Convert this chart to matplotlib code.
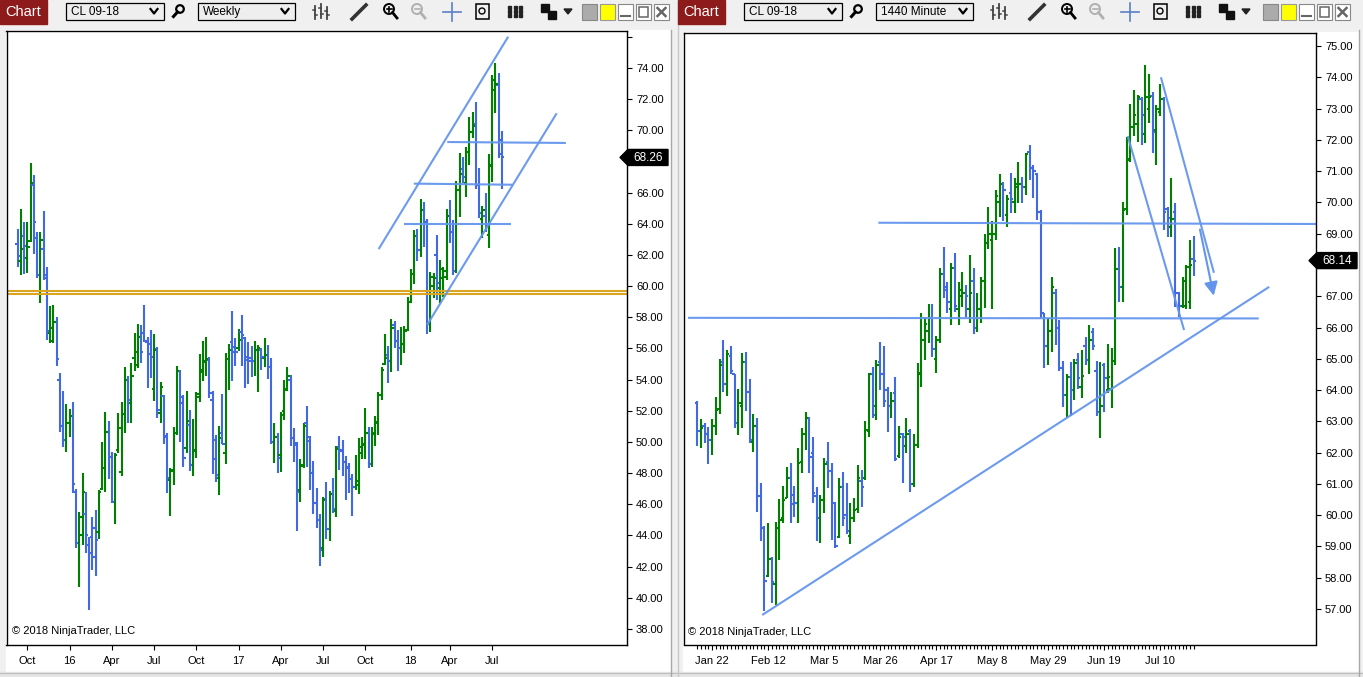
import numpy as np
import pandas as pd
import matplotlib
matplotlib.use("Agg")
import matplotlib.pyplot as plt
from matplotlib.patches import Rectangle, Polygon, Circle

plt.rcParams['font.family'] = ['Liberation Sans', 'DejaVu Sans']

# weekly CL 09-18, one bar per week starting 2015-09-07
w_start = '2015-09-07'
w_open = [62.7, 61.6, 63.2, 61.8, 62.9, 66.5, 63.1, 60.7, 62.4, 60.5,
          57.0, 56.5, 57.7, 54.0, 51.0, 50.1, 51.2, 51.7, 46.8, 43.5,
          44.0, 45.4, 43.4, 43.9, 44.5, 44.25, 47.0, 48.3, 50.66, 49.06,
          46.17, 49.5, 48.1, 51.8, 54.0, 52.5, 55.37, 54.94, 56.76, 57.0,
          56.44, 56.3, 53.4, 55.97, 51.84, 52.95, 50.38, 47.56, 48.2, 50.56,
          54.55, 52.5, 49.63, 51.1, 48.5, 49.4, 52.9, 54.6, 55.15, 55.26,
          52.7, 50.12, 47.66, 50.6, 49.27, 55.3, 56.43, 56.1, 56.0, 57.08,
          56.65, 55.47, 55.36, 55.19, 55.9, 55.9, 55.41, 55.58, 54.83, 50.0,
          50.34, 49.16, 52.0, 53.33, 53.97, 50.23, 49.8, 46.91, 48.52, 51.19,
          50.34, 47.98, 46.1, 45.0, 43.21, 46.31, 44.39, 46.66, 45.59, 49.69,
          49.48, 48.73, 48.3, 47.6, 47.13, 47.23, 49.3, 49.8, 50.6, 48.6,
          50.5, 51.2, 53.0, 55.0, 55.6, 55.2, 57.5, 56.5, 56.0, 56.3,
          57.2, 59.0, 60.8, 63.2, 62.3, 64.9, 64.1, 57.6, 60.0, 62.0,
          59.9, 60.5, 60.6, 64.5, 63.5, 61.0, 66.2, 67.5, 66.6, 68.6,
          69.9, 70.4, 66.5, 64.3, 64.5, 63.3, 67.8, 72.6, 72.9, 69.4]
w_high = [63.67, 64.93, 64.12, 64.12, 67.88, 67.14, 63.48, 63.48, 64.83, 61.23,
          58.73, 58.8, 58.0, 54.4, 53.27, 52.44, 52.1, 52.54, 46.96, 45.5,
          47.99, 46.8, 43.92, 45.2, 45.63, 46.9, 49.98, 51.9, 51.35, 49.33,
          49.27, 51.84, 52.54, 54.83, 54.23, 55.1, 56.97, 57.57, 57.5, 58.79,
          56.76, 57.2, 56.93, 56.1, 53.83, 53.0, 50.56, 48.31, 50.98, 54.88,
          54.6, 53.0, 53.27, 52.05, 51.47, 53.18, 55.64, 56.48, 56.71, 55.43,
          53.27, 50.44, 51.0, 53.05, 55.68, 56.28, 58.4, 56.69, 57.25, 58.14,
          56.71, 56.41, 56.16, 56.48, 56.22, 56.01, 56.65, 56.22, 55.36, 51.19,
          50.55, 51.9, 54.0, 54.79, 54.3, 50.87, 49.97, 48.88, 51.19, 52.3,
          50.38, 48.77, 47.02, 45.37, 46.48, 47.43, 46.85, 47.66, 49.74, 50.38,
          50.12, 49.1, 48.63, 47.94, 49.16, 50.23, 50.34, 52.16, 50.98, 50.98,
          51.66, 53.22, 54.79, 56.9, 56.16, 57.87, 57.78, 57.18, 57.4, 57.44,
          59.32, 61.08, 63.6, 63.7, 65.57, 65.38, 64.3, 60.93, 60.86, 63.28,
          61.67, 61.24, 64.93, 65.53, 64.24, 66.75, 68.52, 68.31, 68.9, 70.87,
          71.2, 71.84, 67.56, 65.14, 66.0, 68.48, 73.55, 74.3, 73.7, 69.96]
w_low = [61.25, 60.72, 60.78, 60.87, 62.86, 62.07, 60.55, 58.94, 60.40, 56.54,
         56.37, 56.37, 54.9, 50.66, 49.7, 49.38, 50.3, 46.7, 43.17, 40.67,
         43.39, 42.85, 39.22, 41.8, 41.4, 43.8, 46.92, 46.8, 47.65, 46.06,
         44.74, 49.27, 47.84, 50.6, 51.24, 51.24, 54.58, 54.73, 55.09, 56.44,
         53.49, 54.13, 52.65, 51.56, 51.24, 49.85, 46.7, 45.27, 47.24, 50.45,
         50.0, 48.4, 49.27, 48.15, 47.83, 48.99, 52.58, 53.93, 54.25, 52.84,
         47.94, 47.45, 46.6, 49.87, 48.58, 53.33, 53.9, 54.87, 55.83, 54.87,
         53.48, 53.72, 54.19, 54.23, 53.22, 54.62, 54.83, 54.06, 49.84, 48.63,
         47.98, 48.09, 51.41, 53.29, 49.74, 48.73, 44.3, 46.12, 48.3, 48.41,
         46.91, 45.37, 44.5, 42.03, 42.63, 43.77, 43.66, 45.46, 45.2, 48.2,
         47.83, 46.27, 46.74, 45.27, 46.91, 46.66, 48.88, 48.88, 48.3, 48.41,
         49.76, 50.44, 52.69, 54.93, 53.76, 54.5, 56.0, 54.57, 54.93, 55.68,
         57.14, 58.9, 60.13, 61.63, 61.89, 62.53, 56.93, 57.08, 59.21, 59.11,
         58.9, 59.32, 60.39, 62.74, 60.71, 60.86, 64.46, 66.6, 65.74, 67.77,
         69.48, 66.21, 64.35, 63.07, 63.5, 62.42, 66.7, 71.13, 68.2, 66.21]
w_close = [61.94, 62.4, 62.6, 62.5, 66.6, 64.1, 60.7, 62.96, 60.7, 57.1,
           57.3, 57.7, 55.35, 51.0, 50.1, 51.2, 51.7, 47.3, 43.5, 45.2,
           46.8, 44.0, 42.85, 42.6, 43.7, 46.8, 48.3, 50.66, 49.06, 46.17,
           49.16, 50.9, 51.8, 54.0, 52.7, 54.25, 55.8, 56.76, 55.8, 56.5,
           55.65, 55.47, 55.9, 52.05, 53.55, 50.34, 47.67, 48.16, 50.6, 54.58,
           52.9, 49.0, 51.34, 48.5, 49.5, 53.07, 54.5, 55.2, 55.3, 53.16,
           48.9, 47.88, 50.23, 49.9, 55.3, 55.9, 55.79, 55.79, 56.54, 56.86,
           55.26, 55.21, 55.19, 55.9, 56.0, 55.47, 55.58, 54.83, 50.0, 50.34,
           48.99, 51.73, 53.4, 54.23, 50.23, 49.91, 46.8, 48.47, 51.02, 50.08,
           48.03, 46.1, 45.0, 43.1, 46.27, 44.39, 46.66, 45.67, 49.52, 49.44,
           48.73, 48.41, 47.6, 47.13, 47.5, 49.69, 49.9, 50.6, 48.6, 50.6,
           51.3, 53.0, 54.6, 55.4, 55.2, 57.3, 56.5, 56.0, 56.3, 57.1,
           59.0, 60.8, 63.2, 62.3, 64.9, 64.1, 57.6, 60.6, 60.5, 60.2,
           61.1, 61.0, 64.5, 63.5, 61.0, 66.2, 67.2, 67.0, 68.6, 69.9,
           70.3, 66.5, 64.7, 64.9, 64.0, 67.7, 73.2, 73.0, 68.5, 68.26]

# daily (1440 minute) CL 09-18 from 2018-01-16, Good Friday closed
d_start = '2018-01-16'
d_closed = '2018-03-30'
d_open = [63.6, 62.7, 62.85, 62.6, 62.4, 62.85, 63.4, 64.9, 64.2, 65.1,
          64.5, 62.95, 63.5, 64.9, 63.95, 62.35, 62.85, 60.6, 59.6, 58.05,
          58.6, 57.8, 59.6, 59.9, 60.55, 61.2, 60.65, 60.4, 61.7, 62.6,
          63.1, 62.0, 60.6, 59.9, 60.5, 61.7, 61.4, 60.4, 59.3, 60.9,
          60.0, 59.35, 59.9, 60.2, 61.1, 61.2, 62.7, 64.5, 63.5, 64.9,
          64.5, 64.0, 63.5, 63.9, 61.9, 62.6, 62.2, 62.7, 61.0, 62.24,
          64.55, 65.6, 65.9, 66.3, 65.0, 65.6, 67.7, 67.3, 66.6, 67.9,
          66.6, 67.0, 67.1, 66.6, 67.5, 66.0, 66.6, 67.5, 68.7, 68.8,
          69.0, 70.0, 70.6, 69.6, 70.3, 70.0, 70.5, 70.6, 70.5, 71.6,
          71.1, 70.9, 69.7, 66.45, 65.4, 65.9, 67.1, 66.0, 64.7, 63.84,
          64.43, 64.0, 64.95, 64.1, 65.4, 64.95, 65.87, 64.6, 63.31, 64.8,
          64.0, 64.05, 64.94, 67.86, 67.3, 69.8, 71.4, 72.4, 72.5, 73.3,
          72.2, 73.0, 73.4, 72.3, 72.9, 73.3, 69.8, 69.2, 69.7, 67.1,
          66.69, 66.7, 66.8, 68.2]
d_high = [63.66, 63.06, 62.94, 62.81, 63.06, 63.79, 64.99, 65.6, 65.28, 65.41,
          64.53, 64.05, 65.17, 65.23, 64.34, 63.23, 63.1, 61.02, 59.66, 59.74,
          58.65, 59.79, 60.51, 60.93, 61.55, 61.68, 60.93, 62.14, 62.78, 63.31,
          63.13, 62.49, 60.91, 60.64, 61.82, 62.35, 61.66, 60.43, 61.18, 61.37,
          61.04, 60.38, 60.54, 61.6, 61.44, 63.01, 64.56, 64.73, 64.96, 65.54,
          65.41, 64.11, 63.95, 64.41, 62.85, 62.62, 63.1, 62.75, 62.6, 64.85,
          66.48, 66.35, 66.75, 66.75, 65.73, 67.89, 68.56, 67.47, 68.05, 68.39,
          67.47, 67.79, 67.36, 68.32, 67.89, 67.09, 67.62, 68.99, 69.84, 69.42,
          70.4, 70.91, 70.66, 70.24, 70.93, 70.77, 71.3, 70.82, 71.59, 71.84,
          71.2, 70.95, 69.76, 66.48, 66.3, 67.62, 67.22, 66.24, 64.94, 64.53,
          64.9, 64.98, 65.17, 65.28, 65.7, 66.08, 65.97, 64.94, 64.9, 64.85,
          65.47, 65.33, 68.53, 68.58, 70.0, 72.1, 73.14, 73.59, 73.43, 73.38,
          74.39, 74.12, 73.54, 73.11, 73.8, 73.38, 69.86, 70.77, 69.97, 67.14,
          67.62, 68.0, 68.8, 68.92]
d_low = [62.21, 62.14, 62.32, 61.64, 61.92, 62.56, 63.23, 63.95, 63.81, 64.53,
         62.78, 62.56, 62.78, 63.34, 62.3, 62.03, 60.11, 59.17, 56.95, 58.01,
         57.18, 57.13, 58.57, 59.76, 60.54, 59.76, 59.93, 59.76, 61.36, 62.08,
         61.36, 60.38, 59.18, 59.12, 60.08, 60.86, 59.21, 58.94, 59.26, 59.65,
         59.4, 59.08, 59.79, 60.08, 60.27, 61.12, 62.51, 63.1, 63.04, 64.0,
         63.47, 62.67, 63.1, 61.74, 61.82, 61.02, 62.0, 60.75, 60.9, 62.14,
         64.1, 64.96, 65.5, 65.07, 64.56, 65.5, 66.93, 66.45, 66.08, 66.51,
         66.08, 66.67, 66.33, 66.13, 65.79, 65.87, 66.15, 66.61, 68.5, 66.58,
         68.8, 69.54, 69.42, 69.22, 69.65, 69.65, 69.99, 69.97, 70.23, 70.72,
         70.13, 69.44, 66.3, 64.7, 64.8, 65.23, 65.44, 64.6, 63.47, 63.15,
         63.17, 63.68, 64.02, 63.74, 64.8, 64.5, 65.28, 63.17, 62.46, 63.31,
         63.9, 63.42, 64.8, 66.8, 66.8, 69.6, 71.3, 72.12, 71.94, 71.83,
         71.89, 72.53, 71.59, 71.2, 72.76, 69.12, 68.9, 68.9, 66.67, 66.35,
         66.61, 66.58, 66.58, 67.65]
d_close = [62.7, 62.8, 62.6, 62.4, 62.85, 63.35, 64.8, 64.2, 65.15, 64.6,
           62.95, 63.6, 64.9, 63.95, 62.4, 62.85, 60.6, 59.6, 57.9, 58.6,
           57.85, 59.6, 59.85, 60.5, 61.2, 60.35, 60.38, 61.66, 62.6, 63.1,
           61.85, 60.7, 59.9, 60.5, 61.65, 61.4, 60.4, 59.0, 60.9, 59.9,
           59.5, 59.9, 60.17, 61.2, 60.9, 62.72, 64.5, 63.2, 64.8, 64.5,
           63.66, 63.5, 63.66, 61.8, 62.5, 62.5, 62.6, 61.0, 62.24, 64.53,
           65.6, 66.1, 66.3, 65.3, 65.6, 67.7, 67.2, 66.8, 67.9, 66.7,
           67.2, 67.1, 67.0, 67.1, 66.0, 66.6, 67.5, 68.7, 69.0, 69.0,
           70.2, 70.6, 70.4, 70.1, 70.1, 70.6, 70.6, 70.5, 71.55, 71.1,
           71.0, 69.7, 66.45, 65.4, 65.9, 67.3, 66.0, 64.7, 63.84, 64.43,
           64.0, 64.85, 64.4, 64.46, 64.95, 65.6, 65.4, 63.31, 63.5, 64.4,
           64.43, 64.94, 67.86, 67.3, 69.75, 71.37, 72.42, 72.8, 73.38, 72.8,
           73.38, 73.38, 72.26, 72.98, 73.3, 69.7, 69.49, 69.46, 67.1, 66.7,
           67.5, 67.95, 68.0, 68.14]

# drawing objects, in (bar index, price)
w_gold_levels = [59.70, 59.50]
w_channel = [((111.1, 62.38), (150.95, 76.01)),
             ((126.0, 57.51), (165.85, 71.09)),
             ((132.2, 69.25), (168.7, 69.19)),
             ((121.9, 66.58), (152.3, 66.51)),
             ((118.8, 64.01), (151.7, 64.01))]
d_lines = [((-2.5, 66.31), (150.4, 66.29)),
           ((48.5, 69.35), (166.0, 69.31)),
           ((17.4, 56.81), (153.2, 67.30)),
           ((115.3, 72.12), (130.4, 65.92)),
           ((124.2, 74.00), (138.4, 67.75))]
d_arrow = ((134.5, 69.22), (138.5, 66.93))

UP = '#008000'
DOWN = '#4169E1'
DRAW = '#6495ED'

W, H = 1363, 677
fig = plt.figure(figsize=(W / 100, H / 100), dpi=100)
fig.patch.set_facecolor('#F0F0F0')


def frac(x0, y0, x1, y1):
    return [x0 / W, 1 - y1 / H, (x1 - x0) / W, (y1 - y0) / H]


bg = fig.add_axes([0, 0, 1, 1], zorder=0)
bg.set_xlim(0, W)
bg.set_ylim(H, 0)
bg.axis('off')
bg.add_patch(Rectangle((6, 30), 664, 642, color='white'))
bg.add_patch(Rectangle((683, 32), 675, 640, color='white'))
bg.add_patch(Rectangle((0, 672), W, 5, color='#E4E4E4'))
bg.plot([0, W], [672.5, 672.5], color='#BDBDBD', lw=0.8)
bg.plot([670.5, 670.5], [30, 677], color='#A8A8A8', lw=1)
bg.plot([677.5, 677.5], [0, 677], color='#C8C8C8', lw=1)
bg.plot([1358.5, 1358.5], [30, 677], color='#A8A8A8', lw=1)


def draw_ohlc(ax, o, h, l, c, half):
    o, h, l, c = map(np.asarray, (o, h, l, c))
    x = np.arange(len(o))
    col = np.where(c >= o, UP, DOWN)
    ax.vlines(x, l, h, colors=col, lw=1.5)
    ax.hlines(o, x - half, x, colors=col, lw=1.5)
    ax.hlines(c, x, x + half, colors=col, lw=1.5)


def style_axes(ax):
    ax.set_facecolor('white')
    ax.yaxis.tick_right()
    ax.tick_params(axis='both', direction='out', length=3.5, width=0.8,
                   labelsize=8, colors='black')
    ax.tick_params(axis='y', pad=3)
    ax.tick_params(axis='x', pad=4.5)
    for s in ax.spines.values():
        s.set_color('black')
        s.set_linewidth(1.0)


def price_labels(ticks, last, top=None):
    # the last-price tag hides the nearest level label
    near = ticks[np.argmin(np.abs(ticks - last))]
    return ['' if (v == near or (top is not None and v >= top)) else f'{v:.2f}'
            for v in ticks]


# ---------- left: weekly ----------
ax1 = fig.add_axes(frac(6.5, 30.5, 627, 644.5), zorder=1)
style_axes(ax1)
draw_ohlc(ax1, w_open, w_high, w_low, w_close, 0.72)
for lvl in w_gold_levels:
    ax1.axhline(lvl, color='#DAA520', lw=1.5)
for (x0, y0), (x1, y1) in w_channel:
    ax1.plot([x0, x1], [y0, y1], color=DRAW, lw=1.5, alpha=0.95, solid_capstyle='butt')
ax1.set_xlim((7 - 18) / 3.248, (627 - 18) / 3.248)
ax1.set_ylim(74 - (644.5 - 68) / 15.583, 74 + (68 - 30.5) / 15.583)
wt = np.arange(38, 77, 2)
ax1.set_yticks(wt)
ax1.set_yticklabels(price_labels(wt, w_close[-1], top=76))

weeks = pd.date_range(w_start, periods=len(w_open), freq='7D')
w_ticks, w_labels = [], []
for i, d in enumerate(weeks):
    e = d + pd.Timedelta(days=6)
    if d.day == 1:
        new = d
    elif e.month != d.month:
        new = e
    else:
        continue
    if new.month in (1, 4, 7, 10):
        w_ticks.append(i)
        w_labels.append(f'{new.year % 100:02d}' if new.month == 1 else new.strftime('%b'))
ax1.set_xticks(w_ticks)
ax1.set_xticklabels(w_labels)

# ---------- right: daily ----------
ax2 = fig.add_axes(frac(683.5, 32.5, 1316, 644.5), zorder=1)
style_axes(ax2)
draw_ohlc(ax2, d_open, d_high, d_low, d_close, 0.62)
for (x0, y0), (x1, y1) in d_lines:
    ax2.plot([x0, x1], [y0, y1], color=DRAW, lw=1.5, alpha=0.95, solid_capstyle='butt')
ax2.annotate('', xy=d_arrow[1], xytext=d_arrow[0],
             arrowprops=dict(arrowstyle='-|>', color=DRAW, lw=1.5, mutation_scale=20))
ax2.set_xlim((683.5 - 697.3) / 3.733, (1316 - 697.3) / 3.733)
ax2.set_ylim(75 - (644.5 - 46) / 31.28, 75 + (46 - 32.5) / 31.28)
dt = np.arange(57, 76, 1)
ax2.set_yticks(dt)
ax2.set_yticklabels(price_labels(dt, d_close[-1]))

days = pd.bdate_range(d_start, periods=len(d_open) + 5)
days = days[days != pd.Timestamp(d_closed)][:len(d_open)]
d_ticks = list(range(4, len(d_open), 15))
ax2.set_xticks(d_ticks)
ax2.set_xticklabels([f'{days[i]:%b} {days[i].day}' for i in d_ticks])
ax2.set_xticks(np.arange(len(d_open)), minor=True)
ax2.tick_params(axis='x', which='minor', length=3, width=0.8, direction='out')

# ---------- overlay: toolbar, price tags, copyright ----------
ov = fig.add_axes([0, 0, 1, 1], zorder=5)
ov.set_xlim(0, W)
ov.set_ylim(H, 0)
ov.axis('off')
ov.patch.set_alpha(0)


def price_tag(ax, price, x_tip):
    y = H - ax.transData.transform((0, price))[1]
    ov.add_patch(Polygon([(x_tip, y), (x_tip + 8, y - 8), (x_tip + 48, y - 8),
                          (x_tip + 48, y + 8), (x_tip + 8, y + 8)],
                         closed=True, color='black'))
    ov.text(x_tip + 28, y + 0.5, f'{price:.2f}', color='white', fontsize=8.5,
            ha='center', va='center')


price_tag(ax1, w_close[-1], 620)
price_tag(ax2, d_close[-1], 1309)

ov.text(12, 631, '\u00a9 2018 NinjaTrader, LLC', fontsize=8, va='center')
ov.text(688, 632, '\u00a9 2018 NinjaTrader, LLC', fontsize=8, va='center')


def toolbar(dx, dbtn, interval):
    ov.add_patch(Rectangle((dx, 0), 47, 24, color='#8E1B1B'))
    ov.text(dx + 23.5, 12.5, 'Chart', color='white', fontsize=10.5, ha='center', va='center')
    for x0, x1, label in ((66, 164, 'CL 09-18'), (198, 295, interval)):
        ov.add_patch(Rectangle((dx + x0, 3), x1 - x0, 17, facecolor='#EEEEEE',
                               edgecolor='black', lw=0.9))
        ov.text(dx + x0 + 5, 12, label, fontsize=8.5, va='center')
        cx = dx + x1 - 10
        ov.plot([cx - 3.5, cx, cx + 3.5], [9, 13.5, 9], color='black', lw=1.6)
    # search glass
    ov.add_patch(Circle((dx + 180, 9), 3.8, fill=False, ec='black', lw=1.6))
    ov.plot([dx + 177.5, dx + 173.5], [12, 16.5], color='black', lw=2.2)
    # bar type icon
    for xx, (lo, hi) in zip((315, 321, 327), ((6, 19), (4, 18), (7, 19))):
        ov.plot([dx + xx] * 2, [lo, hi], color='#444444', lw=1.3)
        ov.plot([dx + xx - 2, dx + xx], [lo + 4] * 2, color='#444444', lw=1.1)
        ov.plot([dx + xx, dx + xx + 2], [hi - 4] * 2, color='#444444', lw=1.1)
    # pencil
    ov.plot([dx + 352, dx + 366], [19, 5], color='#333333', lw=2.6)
    # zoom in / out
    for x, c, sign in ((389, 'black', '+'), (417, '#B0B0B0', '-')):
        ov.add_patch(Circle((dx + x, 9), 5, fill=False, ec=c, lw=1.4))
        ov.plot([dx + x + 3.5, dx + x + 8], [12.5, 18], color=c, lw=2)
        ov.plot([dx + x - 2.5, dx + x + 2.5], [9, 9], color=c, lw=1.2)
        if sign == '+':
            ov.plot([dx + x, dx + x], [6.5, 11.5], color=c, lw=1.2)
    # crosshair
    ov.plot([dx + 443, dx + 461], [12, 12], color='#5B7FC7', lw=1.2)
    ov.plot([dx + 452, dx + 452], [3, 21], color='#5B7FC7', lw=1.2)
    # data box
    ov.add_patch(Rectangle((dx + 476, 4), 13, 15, fill=False, ec='black', lw=1.1))
    ov.add_patch(Circle((dx + 482, 11), 3, fill=False, ec='black', lw=1))
    # object list
    for yy in (7, 11, 15):
        ov.add_patch(Rectangle((dx + 508, yy - 1.5), 3, 3, color='#222222'))
        ov.add_patch(Rectangle((dx + 514, yy - 1.5), 3, 3, color='#222222'))
        ov.add_patch(Rectangle((dx + 519, yy - 1.5), 3, 3, color='#222222'))
    # window icon + dropdown
    ov.add_patch(Rectangle((dx + 541, 4), 8, 8, color='#111111'))
    ov.add_patch(Rectangle((dx + 548, 11), 8, 8, color='#111111'))
    ov.add_patch(Polygon([(dx + 564, 9), (dx + 572, 9), (dx + 568, 14)], color='#222222'))
    # colour and window buttons
    ov.add_patch(Rectangle((dbtn + 582, 4), 15, 16, facecolor='#ABABAB', ec='#888888', lw=0.8))
    ov.add_patch(Rectangle((dbtn + 600, 4), 15, 16, facecolor='#FFFF00', ec='#999999', lw=0.8))
    for x in (618, 636, 654):
        ov.add_patch(Rectangle((dbtn + x, 4), 15, 16, facecolor='white', ec='#888888', lw=0.8))
    ov.plot([dbtn + 621, dbtn + 630], [16, 16], color='#666666', lw=1.5)
    ov.add_patch(Rectangle((dbtn + 639, 7), 9, 10, fill=False, ec='#666666', lw=1.1))
    ov.plot([dbtn + 657.5, dbtn + 665.5], [8, 16], color='#666666', lw=1.8)
    ov.plot([dbtn + 657.5, dbtn + 665.5], [16, 8], color='#666666', lw=1.8)


toolbar(0, 0, 'Weekly')
toolbar(678, 681, '1440 Minute')

fig.savefig('out.png', dpi=100, facecolor=fig.get_facecolor())
